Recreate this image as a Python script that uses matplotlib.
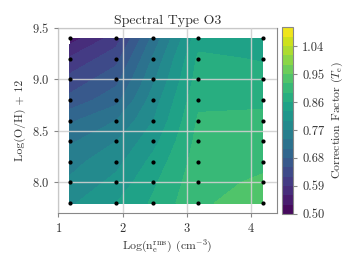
import numpy as np
import matplotlib
matplotlib.use('Agg')
import matplotlib.pyplot as plt

plt.rcParams['font.family'] = 'serif'
plt.rcParams['font.serif'] = ['cmr10', 'DejaVu Serif']
plt.rcParams['mathtext.fontset'] = 'cm'
plt.rcParams['axes.formatter.use_mathtext'] = True

# grid of models: density (log) and metallicity
log_ne = [1.18, 1.9, 2.48, 3.18, 4.18]
log_oh = [7.8, 8.0, 8.2, 8.4, 8.6, 8.8, 9.0, 9.2, 9.4]

# correction factor, rows follow log_oh, columns follow log_ne
corr = [
    [0.795, 0.830, 0.865, 0.915, 0.935],
    [0.775, 0.810, 0.855, 0.910, 0.925],
    [0.760, 0.790, 0.840, 0.905, 0.913],
    [0.735, 0.770, 0.820, 0.900, 0.905],
    [0.705, 0.740, 0.800, 0.894, 0.895],
    [0.660, 0.700, 0.785, 0.884, 0.886],
    [0.630, 0.670, 0.765, 0.874, 0.870],
    [0.595, 0.640, 0.745, 0.866, 0.858],
    [0.545, 0.605, 0.720, 0.848, 0.850],
]

levels = np.linspace(0.5, 1.1, 21)
txt = '#333333'
edge = '#888888'

X, Y = np.meshgrid(log_ne, log_oh)
Z = np.array(corr)

fig = plt.figure(figsize=(3.52, 2.64), dpi=100)
ax = fig.add_axes([0.166, 0.192, 0.620, 0.702])
cax = fig.add_axes([0.801, 0.190, 0.032, 0.706])

cf = ax.contourf(X, Y, Z, levels=levels, cmap='viridis')
ax.scatter(X.ravel(), Y.ravel(), s=4, color='black', zorder=3)

ax.set_xlim(1, 4.4)
ax.set_ylim(7.7, 9.5)
ax.set_xticks([1, 2, 3, 4])
ax.set_yticks([8.0, 8.5, 9.0, 9.5])
ax.set_axisbelow(False)
ax.grid(True, color='#d0d0d0', lw=1.0, alpha=0.9)
for s in ax.spines.values():
    s.set_color(edge)
ax.tick_params(colors=edge, labelcolor=txt, labelsize=9, length=3)

ax.set_title('Spectral Type O3', fontsize=10, color=txt, pad=3)
ax.set_xlabel(r'Log(n$_{\rm e}^{\rm rms}$) (cm$^{-3}$)', fontsize=8.5, color=txt, labelpad=2)
ax.set_ylabel('Log(O/H) + 12', fontsize=8.5, color=txt, labelpad=4)

cb = fig.colorbar(cf, cax=cax, ticks=levels[::3], format='%.2f')
cb.outline.set_edgecolor(edge)
cb.ax.tick_params(colors=edge, labelcolor=txt, labelsize=9, length=3)
cb.set_label(r'Correction Factor ($T_{\rm e}$)', fontsize=8.5, color=txt)

fig.savefig('out.png', dpi=100)
